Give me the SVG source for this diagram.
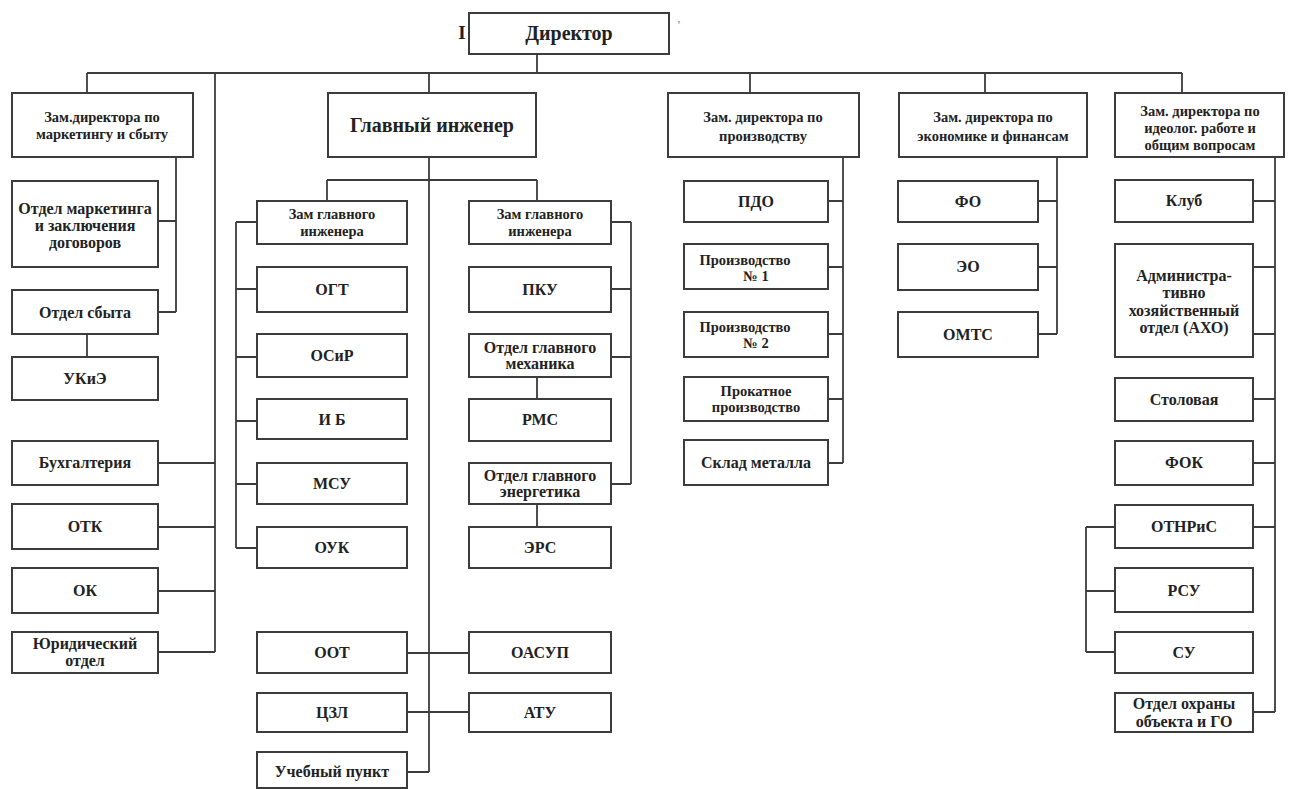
<svg xmlns="http://www.w3.org/2000/svg" width="1289" height="789" viewBox="0 0 1289 789">
<style>
.b{fill:#fff;stroke:#3c3c3c;stroke-width:2}
.t{font-family:"Liberation Serif","DejaVu Serif","Times New Roman",serif;font-weight:bold;font-size:16px;fill:#222;text-anchor:middle}
.s{font-size:14.5px}
.big{font-size:20px}
.c{fill:none;stroke:#3c3c3c;stroke-width:1.8}
</style>
<rect width="1289" height="789" fill="#fff"/>
<g id="connectors" class="c">
<path d="M537 54V73M87 73H1182M87 73V93M429 73V93M750 73V93M985 73V93M1182 73V93"/>
<path d="M215 73V652M158 463H215M158 527H215M158 591H215M158 652H215"/>
<path d="M176 157V312M158 221H176M158 312H176M87 334V357"/>
<path d="M429 157V772M327 180H537M327 180V201M537 180V201"/>
<path d="M236 222V548M236 222H257M236 289H257M236 357H257M236 421H257M236 484H257M236 548H257"/>
<path d="M631 222V484M611 222H631M611 289H631M611 357H631M611 484H631M537 377V399M537 504V527"/>
<path d="M407 653H469M407 712H469M407 772H429"/>
<path d="M843 157V463M828 201H843M828 267H843M828 334H843M828 399H843M828 463H843"/>
<path d="M1057 157V334M1038 201H1057M1038 267H1057M1038 334H1057"/>
<path d="M1275 157V712M1253 201H1275M1253 267H1275M1253 334H1275M1253 399H1275M1253 463H1275M1253 527H1275M1253 712H1275"/>
<path d="M1086 527V652M1086 527H1115M1086 591H1115M1086 652H1115"/>
</g>
<text class="t" x="462" y="39" style="font-size:19px">I</text>
<text class="t" x="679" y="29" style="font-size:12px;fill:#999">'</text>
<g id="director"><rect class="b" x="469" y="13" width="200" height="41"/><text class="t big" x="569" y="40">Директор</text></g>
<g id="zam-marketing"><rect class="b" x="12" y="93" width="181" height="64"/><text class="t s" x="102" y="122">Зам.директора по<tspan x="102" dy="17">маркетингу и сбыту</tspan></text></g>
<g id="glavniy-inzhener"><rect class="b" x="328" y="93" width="208" height="64"/><text class="t big" x="432" y="132">Главный инженер</text></g>
<g id="zam-proizvodstvo"><rect class="b" x="668" y="93" width="191" height="64"/><text class="t s" x="763" y="122">Зам. директора по<tspan x="763" dy="19">производству</tspan></text></g>
<g id="zam-ekonomika"><rect class="b" x="899" y="93" width="188" height="64"/><text class="t s" x="993" y="122">Зам. директора  по<tspan x="993" dy="19">экономике и финансам</tspan></text></g>
<g id="zam-ideologiya"><rect class="b" x="1115" y="93" width="169" height="64"/><text class="t s" x="1200" y="116">Зам. директора по<tspan x="1200" dy="17">идеолог. работе и</tspan><tspan x="1200" dy="17">общим  вопросам</tspan></text></g>

<g id="otdel-marketinga"><rect class="b" x="12" y="181" width="146" height="86"/><text class="t" x="85" y="214">Отдел маркетинга<tspan x="85" dy="17">и заключения</tspan><tspan x="85" dy="17">договоров</tspan></text></g>
<g id="otdel-sbyta"><rect class="b" x="12" y="290" width="146" height="44"/><text class="t" x="85" y="318">Отдел сбыта</text></g>
<g id="ukie"><rect class="b" x="12" y="357" width="146" height="43"/><text class="t" x="85" y="384">УКиЭ</text></g>
<g id="buhgalteriya"><rect class="b" x="12" y="441" width="146" height="44"/><text class="t" x="85" y="468">Бухгалтерия</text></g>
<g id="otk"><rect class="b" x="12" y="504" width="146" height="45"/><text class="t" x="85" y="532">ОТК</text></g>
<g id="ok"><rect class="b" x="12" y="568" width="146" height="45"/><text class="t" x="85" y="596">ОК</text></g>
<g id="yuridicheskiy"><rect class="b" x="12" y="632" width="146" height="41"/><text class="t" x="85" y="649">Юридический<tspan x="85" dy="17">отдел</tspan></text></g>

<g id="zam-gi-1"><rect class="b" x="257" y="201" width="150" height="43"/><text class="t s" x="332" y="219">Зам главного<tspan x="332" dy="17">инженера</tspan></text></g>
<g id="ogt"><rect class="b" x="257" y="267" width="150" height="45"/><text class="t" x="332" y="295">ОГТ</text></g>
<g id="osir"><rect class="b" x="257" y="334" width="150" height="43"/><text class="t" x="332" y="361">ОСиР</text></g>
<g id="ib"><rect class="b" x="257" y="399" width="150" height="40"/><text class="t" x="332" y="425">И Б</text></g>
<g id="msu"><rect class="b" x="257" y="463" width="150" height="41"/><text class="t" x="332" y="489">МСУ</text></g>
<g id="ouk"><rect class="b" x="257" y="527" width="150" height="41"/><text class="t" x="332" y="553">ОУК</text></g>
<g id="oot"><rect class="b" x="257" y="632" width="150" height="41"/><text class="t" x="332" y="658">ООТ</text></g>
<g id="czl"><rect class="b" x="257" y="693" width="150" height="39"/><text class="t" x="332" y="718">ЦЗЛ</text></g>
<g id="uchebniy-punkt"><rect class="b" x="257" y="752" width="150" height="36"/><text class="t" x="332" y="777">Учебный пункт</text></g>

<g id="zam-gi-2"><rect class="b" x="469" y="201" width="142" height="43"/><text class="t s" x="540" y="219">Зам главного<tspan x="540" dy="17">инженера</tspan></text></g>
<g id="pku"><rect class="b" x="469" y="267" width="142" height="45"/><text class="t" x="540" y="295">ПКУ</text></g>
<g id="ogm"><rect class="b" x="469" y="334" width="142" height="43"/><text class="t" x="540" y="353">Отдел главного<tspan x="540" dy="16">механика</tspan></text></g>
<g id="rms"><rect class="b" x="469" y="399" width="142" height="42"/><text class="t" x="540" y="425">РМС</text></g>
<g id="oge"><rect class="b" x="469" y="463" width="142" height="41"/><text class="t" x="540" y="481">Отдел главного<tspan x="540" dy="16">энергетика</tspan></text></g>
<g id="ers"><rect class="b" x="469" y="527" width="142" height="41"/><text class="t" x="540" y="553">ЭРС</text></g>
<g id="oasup"><rect class="b" x="469" y="632" width="142" height="41"/><text class="t" x="540" y="658">ОАСУП</text></g>
<g id="atu"><rect class="b" x="469" y="693" width="142" height="39"/><text class="t" x="540" y="718">АТУ</text></g>

<g id="pdo"><rect class="b" x="684" y="181" width="144" height="41"/><text class="t" x="756" y="207">ПДО</text></g>
<g id="proizv-1"><rect class="b" x="684" y="244" width="144" height="45"/><text class="t s" x="745" y="265">Производство<tspan x="756" dy="16">№ 1</tspan></text></g>
<g id="proizv-2"><rect class="b" x="684" y="312" width="144" height="45"/><text class="t s" x="745" y="332">Производство<tspan x="756" dy="16">№ 2</tspan></text></g>
<g id="prokatnoe"><rect class="b" x="684" y="377" width="144" height="44"/><text class="t s" x="756" y="396">Прокатное<tspan x="756" dy="16">производство</tspan></text></g>
<g id="sklad"><rect class="b" x="684" y="440" width="144" height="45"/><text class="t" x="756" y="468">Склад металла</text></g>

<g id="fo"><rect class="b" x="898" y="181" width="140" height="41"/><text class="t" x="968" y="207">ФО</text></g>
<g id="eo"><rect class="b" x="898" y="244" width="140" height="46"/><text class="t" x="968" y="272">ЭО</text></g>
<g id="omts"><rect class="b" x="898" y="312" width="140" height="45"/><text class="t" x="968" y="340">ОМТС</text></g>

<g id="klub"><rect class="b" x="1115" y="180" width="138" height="42"/><text class="t" x="1184" y="206">Клуб</text></g>
<g id="aho"><rect class="b" x="1115" y="244" width="138" height="113"/><text class="t" x="1184" y="281">Администра-<tspan x="1184" dy="17">тивно</tspan><tspan x="1184" dy="18">хозяйственный</tspan><tspan x="1184" dy="17">отдел (АХО)</tspan></text></g>
<g id="stolovaya"><rect class="b" x="1115" y="378" width="138" height="43"/><text class="t" x="1184" y="405">Столовая</text></g>
<g id="fok"><rect class="b" x="1115" y="441" width="138" height="44"/><text class="t" x="1184" y="468">ФОК</text></g>
<g id="otnris"><rect class="b" x="1115" y="505" width="138" height="43"/><text class="t" x="1184" y="532">ОТНРиС</text></g>
<g id="rsu"><rect class="b" x="1115" y="568" width="138" height="44"/><text class="t" x="1184" y="596">РСУ</text></g>
<g id="su"><rect class="b" x="1115" y="632" width="138" height="41"/><text class="t" x="1184" y="658">СУ</text></g>
<g id="ohrana"><rect class="b" x="1115" y="693" width="138" height="39"/><text class="t" x="1184" y="709">Отдел охраны<tspan x="1184" dy="18">объекта и ГО</tspan></text></g>
</svg>
